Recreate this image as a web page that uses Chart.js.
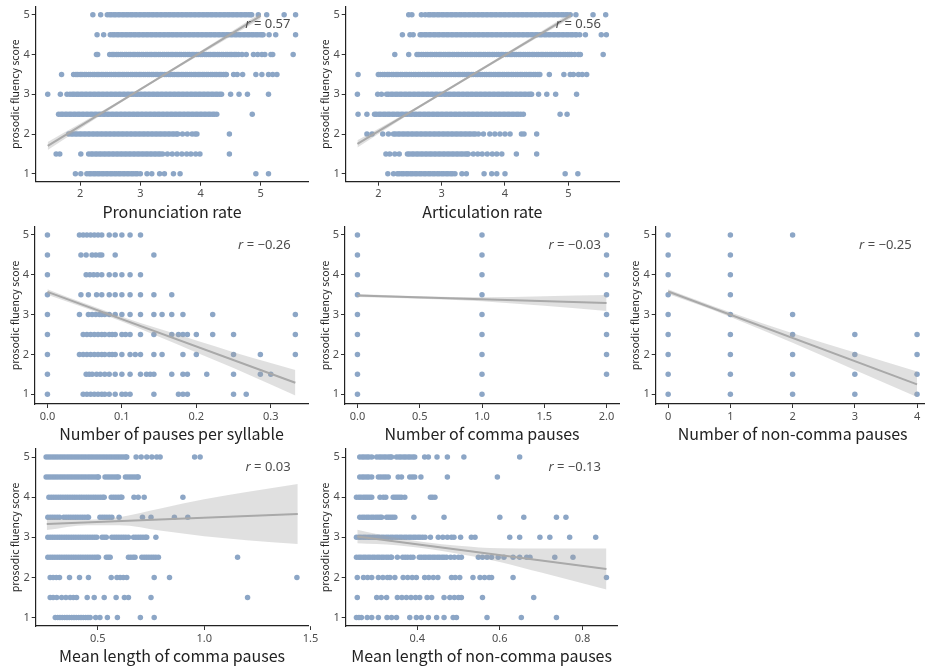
<!DOCTYPE html>
<html><head><meta charset="utf-8">
<script src="https://cdn.jsdelivr.net/npm/chart.js@4.4.1/dist/chart.umd.min.js"></script>
<style>
html,body{margin:0;padding:0;background:#fff;}
#wrap{position:relative;width:925px;height:667px;overflow:hidden;background:#fff;}
#wrap canvas{position:absolute;}
.rlab{position:absolute;font-family:"Noto Sans",sans-serif;font-size:13px;color:#4d4d4d;white-space:nowrap;line-height:1;transform:translate(-100%,-50%);}
</style></head><body><div id="wrap"></div>
<script>
// ---------- shared ----------
const scoreLevels = [5,4.5,4,3.5,3,2.5,2,1.5,1];
const scoreTicks = [1,2,3,4,5];
const scoreTickLabels = ['1','2','3','4','5'];

// ---------- Pronunciation rate (x values per score level, same order as scoreLevels) ----------
const pronRateX = [
 [2.21,2.34,2.45,2.49,2.52,2.56,2.59,2.63,2.66,2.70,2.73,2.77,2.80,2.84,2.87,2.91,2.94,2.98,3.01,3.05,3.08,3.12,3.15,3.19,3.22,3.26,3.29,3.33,3.36,3.40,3.43,3.47,3.50,3.54,3.57,3.61,3.64,3.68,3.71,3.75,3.78,3.82,3.85,3.89,3.92,3.96,3.99,4.03,4.06,4.10,4.13,4.17,4.20,4.24,4.27,4.31,4.34,4.38,4.41,4.45,4.48,4.52,4.55,4.59,4.62,4.66,4.69,4.73,4.76,4.80,4.83,4.85,4.96,5.10,5.39,5.58],
 [2.28,2.39,2.50,2.54,2.57,2.61,2.64,2.68,2.71,2.75,2.78,2.82,2.85,2.89,2.92,2.96,2.99,3.03,3.06,3.10,3.13,3.17,3.20,3.24,3.27,3.31,3.34,3.38,3.41,3.45,3.48,3.52,3.55,3.59,3.62,3.66,3.69,3.73,3.76,3.80,3.83,3.87,3.90,3.94,3.97,4.01,4.04,4.08,4.11,4.15,4.18,4.22,4.25,4.29,4.32,4.36,4.39,4.43,4.46,4.50,4.53,4.57,4.60,4.64,4.67,4.71,4.74,4.78,4.81,4.85,4.88,4.92,4.95,4.99,5.02,5.04,5.14,5.25,5.58],
 [2.27,2.29,2.49,2.53,2.56,2.60,2.63,2.67,2.70,2.74,2.77,2.81,2.84,2.88,2.91,2.95,2.98,3.02,3.05,3.09,3.12,3.16,3.19,3.23,3.26,3.30,3.33,3.37,3.40,3.44,3.47,3.51,3.54,3.58,3.61,3.65,3.68,3.72,3.75,3.79,3.82,3.86,3.89,3.93,3.96,4.00,4.03,4.07,4.10,4.14,4.17,4.21,4.24,4.28,4.31,4.35,4.38,4.42,4.45,4.49,4.52,4.56,4.59,4.63,4.69,4.76,4.88,4.95,5.02,5.07,5.17,5.20,5.54],
 [1.69,1.89,1.93,1.96,2.00,2.03,2.07,2.10,2.14,2.17,2.21,2.24,2.28,2.31,2.35,2.38,2.42,2.45,2.49,2.52,2.56,2.59,2.63,2.66,2.70,2.73,2.77,2.80,2.84,2.87,2.91,2.94,2.98,3.01,3.05,3.08,3.12,3.15,3.19,3.22,3.26,3.29,3.33,3.36,3.40,3.43,3.47,3.50,3.54,3.57,3.61,3.64,3.68,3.71,3.75,3.78,3.82,3.85,3.89,3.92,3.96,3.99,4.03,4.06,4.10,4.13,4.17,4.20,4.24,4.27,4.31,4.34,4.38,4.41,4.43,4.55,4.61,4.70,4.92,5.02,5.13,5.20,5.27],
 [1.46,1.67,1.78,1.83,1.87,1.90,1.94,1.97,2.01,2.04,2.08,2.11,2.15,2.18,2.22,2.25,2.29,2.32,2.36,2.39,2.43,2.46,2.50,2.53,2.57,2.60,2.64,2.67,2.71,2.74,2.78,2.81,2.85,2.88,2.92,2.95,2.99,3.02,3.06,3.09,3.13,3.16,3.20,3.23,3.27,3.30,3.34,3.37,3.41,3.44,3.48,3.51,3.55,3.58,3.62,3.65,3.69,3.72,3.76,3.79,3.83,3.86,3.90,3.93,3.97,4.00,4.04,4.07,4.11,4.14,4.18,4.21,4.25,4.28,4.32,4.35,4.50,4.64,4.78,5.13],
 [1.64,1.68,1.71,1.75,1.78,1.82,1.85,1.89,1.92,1.96,1.99,2.03,2.06,2.10,2.13,2.17,2.20,2.24,2.27,2.31,2.34,2.38,2.41,2.45,2.48,2.52,2.55,2.59,2.62,2.66,2.69,2.73,2.76,2.80,2.83,2.87,2.90,2.94,2.97,3.01,3.04,3.08,3.11,3.15,3.18,3.22,3.25,3.29,3.32,3.36,3.39,3.43,3.46,3.50,3.53,3.57,3.60,3.64,3.67,3.71,3.74,3.78,3.81,3.85,3.88,3.92,3.95,3.99,4.02,4.06,4.09,4.13,4.16,4.20,4.23,4.27,4.86],
 [1.81,1.85,1.88,1.92,1.95,1.99,2.02,2.06,2.09,2.13,2.16,2.20,2.23,2.27,2.30,2.34,2.37,2.41,2.44,2.48,2.51,2.55,2.58,2.62,2.65,2.69,2.72,2.76,2.79,2.83,2.86,2.90,2.93,2.97,3.00,3.04,3.07,3.11,3.14,3.18,3.21,3.25,3.28,3.32,3.35,3.39,3.42,3.46,3.49,3.53,3.56,3.60,3.62,3.70,3.78,3.86,3.91,3.94,4.48],
 [1.60,1.66,2.01,2.14,2.18,2.21,2.25,2.28,2.32,2.35,2.39,2.42,2.46,2.49,2.53,2.56,2.60,2.63,2.67,2.70,2.74,2.77,2.81,2.84,2.88,2.91,2.95,2.98,3.02,3.05,3.09,3.12,3.16,3.19,3.23,3.26,3.30,3.33,3.37,3.45,3.53,3.61,3.69,3.77,3.84,3.92,3.99,4.48],
 [1.92,2.01,2.11,2.15,2.18,2.22,2.25,2.29,2.32,2.36,2.39,2.43,2.46,2.50,2.53,2.57,2.60,2.64,2.67,2.71,2.74,2.78,2.81,2.85,2.88,2.92,2.95,3.00,3.11,3.19,3.32,3.40,3.55,3.66,4.92,5.13]
];
const pronRateFit = [[1.46,1.70],[5.00,4.97]];
const pronRateBandUp = [[1.46,1.80],[2.5,2.695],[3.3,3.43],[4.2,4.275],[5.00,5.05]];
const pronRateBandLo = [[1.46,1.60],[2.5,2.625],[3.3,3.37],[4.2,4.185],[5.00,4.89]];
const pronRateTicks = [2,3,4,5];
const pronRateTickLabels = ['2','3','4','5'];

// ---------- Articulation rate ----------
const artRateX = [
 [2.48,2.53,2.68,2.74,2.79,2.82,2.86,2.89,2.93,2.96,3.00,3.03,3.07,3.10,3.14,3.17,3.21,3.24,3.28,3.31,3.35,3.38,3.42,3.45,3.49,3.52,3.56,3.59,3.63,3.66,3.70,3.73,3.77,3.80,3.84,3.87,3.91,3.94,3.98,4.01,4.05,4.08,4.12,4.15,4.19,4.22,4.26,4.29,4.33,4.36,4.40,4.43,4.47,4.50,4.54,4.57,4.61,4.64,4.68,4.71,4.75,4.78,4.82,4.85,4.89,4.92,4.96,4.99,5.03,5.12,5.39,5.59],
 [2.38,2.50,2.55,2.66,2.69,2.73,2.76,2.80,2.83,2.87,2.90,2.94,2.97,3.01,3.04,3.08,3.11,3.15,3.18,3.22,3.25,3.29,3.32,3.36,3.39,3.43,3.46,3.50,3.53,3.57,3.60,3.64,3.67,3.71,3.74,3.78,3.81,3.85,3.88,3.92,3.95,3.99,4.02,4.06,4.09,4.13,4.16,4.20,4.23,4.27,4.30,4.34,4.37,4.41,4.44,4.48,4.51,4.55,4.58,4.62,4.65,4.69,4.72,4.76,4.79,4.83,4.86,4.90,4.93,4.97,5.00,5.04,5.07,5.11,5.13,5.18,5.27,5.52,5.60],
 [2.26,2.48,2.61,2.64,2.68,2.71,2.75,2.78,2.82,2.85,2.89,2.92,2.96,2.99,3.03,3.06,3.10,3.13,3.17,3.20,3.24,3.27,3.31,3.34,3.38,3.41,3.45,3.48,3.52,3.55,3.59,3.62,3.66,3.69,3.73,3.76,3.80,3.83,3.87,3.90,3.94,3.97,4.01,4.04,4.08,4.11,4.15,4.18,4.22,4.25,4.29,4.32,4.36,4.39,4.43,4.46,4.50,4.53,4.57,4.60,4.64,4.67,4.71,4.74,4.78,4.81,4.85,4.88,4.92,4.95,4.99,5.02,5.05,5.10,5.16,5.19,5.55],
 [1.68,2.00,2.03,2.07,2.10,2.14,2.17,2.21,2.24,2.28,2.31,2.35,2.38,2.42,2.45,2.49,2.52,2.56,2.59,2.63,2.66,2.70,2.73,2.77,2.80,2.84,2.87,2.91,2.94,2.98,3.01,3.05,3.08,3.12,3.15,3.19,3.22,3.26,3.29,3.33,3.36,3.40,3.43,3.47,3.50,3.54,3.57,3.61,3.64,3.68,3.71,3.75,3.78,3.82,3.85,3.89,3.92,3.96,3.99,4.03,4.06,4.10,4.13,4.17,4.20,4.24,4.27,4.31,4.34,4.38,4.41,4.45,4.48,4.52,4.55,4.70,4.93,5.03,5.08,5.16,5.22,5.29],
 [1.67,1.99,2.05,2.13,2.16,2.20,2.23,2.27,2.30,2.34,2.37,2.41,2.44,2.48,2.51,2.55,2.58,2.62,2.65,2.69,2.72,2.76,2.79,2.83,2.86,2.90,2.93,2.97,3.00,3.04,3.07,3.11,3.14,3.18,3.21,3.25,3.28,3.32,3.35,3.39,3.42,3.46,3.49,3.53,3.56,3.60,3.63,3.67,3.70,3.74,3.77,3.81,3.84,3.88,3.91,3.95,3.98,4.02,4.05,4.09,4.12,4.16,4.19,4.23,4.26,4.30,4.33,4.37,4.40,4.42,4.53,4.66,4.80,5.13],
 [1.68,1.82,1.94,1.97,2.01,2.04,2.08,2.11,2.15,2.18,2.22,2.25,2.29,2.32,2.36,2.39,2.43,2.46,2.50,2.53,2.57,2.60,2.64,2.67,2.71,2.74,2.78,2.81,2.85,2.88,2.92,2.95,2.99,3.02,3.06,3.09,3.13,3.16,3.20,3.23,3.27,3.30,3.34,3.37,3.41,3.44,3.48,3.51,3.55,3.58,3.62,3.65,3.69,3.72,3.76,3.79,3.83,3.86,3.90,3.93,3.97,4.00,4.04,4.07,4.11,4.14,4.18,4.21,4.25,4.29,4.87,4.98],
 [1.82,1.90,2.07,2.16,2.24,2.27,2.31,2.34,2.38,2.41,2.45,2.48,2.52,2.55,2.59,2.62,2.66,2.69,2.73,2.76,2.80,2.83,2.87,2.90,2.94,2.97,3.01,3.04,3.08,3.11,3.15,3.18,3.22,3.25,3.29,3.32,3.36,3.39,3.43,3.46,3.50,3.53,3.58,3.66,3.76,3.84,3.92,4.00,4.08,4.26,4.30,4.50],
 [2.12,2.18,2.26,2.33,2.46,2.49,2.53,2.56,2.60,2.63,2.67,2.70,2.74,2.77,2.81,2.84,2.88,2.91,2.95,2.98,3.02,3.05,3.09,3.12,3.16,3.19,3.23,3.26,3.30,3.33,3.37,3.40,3.42,3.50,3.57,3.64,3.72,3.80,3.87,3.95,4.18,4.50],
 [2.15,2.24,2.30,2.33,2.37,2.40,2.44,2.47,2.51,2.54,2.58,2.61,2.65,2.68,2.72,2.75,2.79,2.82,2.86,2.89,2.93,2.96,3.00,3.03,3.07,3.10,3.14,3.17,3.21,3.32,3.39,3.67,3.79,3.87,4.00,4.95,5.15]
];
const artRateFit = [[1.67,1.75],[5.04,4.98]];
const artRateBandUp = [[1.67,1.84],[2.6,2.675],[3.4,3.44],[4.2,4.215],[5.04,5.05]];
const artRateBandLo = [[1.67,1.66],[2.6,2.607],[3.4,3.376],[4.2,4.135],[5.04,4.91]];
const artRateTicks = [2,3,4,5];
const artRateTickLabels = ['2','3','4','5'];

// ---------- Number of pauses per syllable ----------
const pauseSylX = [
 [0,0.043,0.048,0.053,0.058,0.063,0.068,0.073,0.083,0.091,0.1,0.111,0.125],
 [0,0.045,0.052,0.06,0.065,0.07,0.073,0.091,0.143],
 [0,0.052,0.057,0.062,0.067,0.073,0.083,0.091,0.1,0.111,0.125],
 [0,0.045,0.055,0.066,0.073,0.083,0.091,0.1,0.111,0.125,0.143,0.167],
 [0,0.043,0.055,0.06,0.065,0.07,0.073,0.077,0.083,0.091,0.1,0.111,0.125,0.143,0.154,0.167,0.182,0.222,0.333],
 [0,0.048,0.053,0.058,0.063,0.068,0.073,0.077,0.083,0.087,0.091,0.1,0.105,0.111,0.125,0.143,0.167,0.176,0.182,0.188,0.2,0.222,0.25,0.333],
 [0,0.043,0.048,0.053,0.058,0.063,0.068,0.073,0.077,0.083,0.087,0.091,0.1,0.111,0.118,0.125,0.143,0.154,0.182,0.2,0.25,0.286,0.333],
 [0,0.052,0.056,0.06,0.066,0.071,0.077,0.083,0.091,0.1,0.111,0.125,0.133,0.138,0.143,0.167,0.182,0.188,0.214,0.25,0.286,0.3],
 [0,0.048,0.053,0.058,0.063,0.068,0.073,0.077,0.083,0.091,0.1,0.105,0.111,0.143,0.176,0.182,0.188,0.25,0.267]
];
const pauseSylFit = [[0,3.57],[0.333,1.29]];
const pauseSylBandUp = [[0,3.64],[0.05,3.283],[0.1,2.945],[0.15,2.643],[0.2,2.35],[0.25,2.058],[0.3,1.785],[0.333,1.61]];
const pauseSylBandLo = [[0,3.50],[0.05,3.173],[0.1,2.825],[0.15,2.443],[0.2,2.05],[0.25,1.658],[0.3,1.245],[0.333,0.97]];
const pauseSylTicks = [0,0.1,0.2,0.3];
const pauseSylTickLabels = ['0.0','0.1','0.2','0.3'];

// ---------- Number of comma pauses ----------
const commaNumX = [[0,1,2],[0,1,2],[0,1,2],[0,1,2],[0,1,2],[0,1,2],[0,1,2],[0,1,2],[0,1]];
const commaNumFit = [[0,3.48],[2,3.29]];
const commaNumBandUp = [[0,3.52],[0.5,3.46],[1,3.435],[1.5,3.46],[2,3.49]];
const commaNumBandLo = [[0,3.44],[0.5,3.40],[1,3.335],[1.5,3.22],[2,3.09]];
const commaNumTicks = [0,0.5,1,1.5,2];
const commaNumTickLabels = ['0.0','0.5','1.0','1.5','2.0'];

// ---------- Number of non-comma pauses ----------
const nonCommaNumX = [[0,1,2],[0,1],[0,1],[0,1],[0,1,2],[0,1,2,3,4],[0,1,2,3,4],[0,1,2,3,4],[0,1,2,3,4]];
const nonCommaNumFit = [[0,3.58],[4,1.25]];
const nonCommaNumBandUp = [[0,3.64],[0.5,3.34],[1,3.06],[2,2.535],[3,2.05],[4,1.57]];
const nonCommaNumBandLo = [[0,3.52],[0.5,3.24],[1,2.94],[2,2.295],[3,1.61],[4,0.93]];
const nonCommaNumTicks = [0,1,2,3,4];
const nonCommaNumTickLabels = ['0','1','2','3','4'];

// ---------- Mean length of comma pauses ----------
const commaLenX = [
 [0.257,0.268,0.279,0.290,0.301,0.312,0.323,0.334,0.345,0.356,0.367,0.378,0.389,0.400,0.411,0.422,0.433,0.444,0.455,0.466,0.477,0.488,0.499,0.510,0.521,0.532,0.543,0.554,0.565,0.576,0.587,0.598,0.609,0.620,0.631,0.636,0.680,0.704,0.730,0.754,0.777,0.793,0.955,0.981],
 [0.257,0.268,0.279,0.290,0.301,0.312,0.323,0.334,0.345,0.356,0.367,0.378,0.389,0.400,0.411,0.422,0.433,0.444,0.455,0.466,0.477,0.488,0.499,0.503,0.534,0.545,0.556,0.567,0.578,0.589,0.597,0.630,0.641,0.652,0.663,0.674,0.685,0.690],
 [0.270,0.281,0.292,0.303,0.314,0.325,0.336,0.347,0.358,0.369,0.380,0.391,0.402,0.413,0.424,0.435,0.446,0.457,0.468,0.479,0.490,0.501,0.512,0.523,0.530,0.563,0.574,0.585,0.596,0.607,0.613,0.670,0.690,0.718,0.900],
 [0.265,0.276,0.287,0.298,0.309,0.320,0.340,0.351,0.362,0.373,0.384,0.395,0.406,0.417,0.428,0.439,0.450,0.456,0.510,0.521,0.532,0.543,0.554,0.566,0.600,0.710,0.750,0.860,0.923],
 [0.265,0.276,0.287,0.298,0.309,0.320,0.331,0.342,0.353,0.364,0.375,0.386,0.397,0.408,0.419,0.430,0.441,0.452,0.463,0.474,0.485,0.495,0.520,0.530,0.540,0.566,0.577,0.588,0.599,0.610,0.621,0.632,0.644,0.668,0.679,0.690,0.701,0.712,0.723,0.730,0.773],
 [0.265,0.276,0.287,0.298,0.309,0.320,0.331,0.342,0.353,0.364,0.375,0.386,0.397,0.408,0.419,0.430,0.441,0.452,0.463,0.474,0.485,0.495,0.503,0.540,0.549,0.558,0.644,0.655,0.666,0.675,0.707,0.718,0.729,0.740,0.751,0.762,0.773,0.785,1.157],
 [0.276,0.290,0.305,0.320,0.367,0.414,0.456,0.563,0.590,0.605,0.620,0.636,0.765,0.837,1.436],
 [0.276,0.290,0.307,0.330,0.350,0.370,0.385,0.400,0.450,0.483,0.530,0.586,0.625,0.644,0.750,1.204],
 [0.300,0.311,0.322,0.333,0.344,0.355,0.366,0.377,0.388,0.399,0.410,0.421,0.432,0.443,0.454,0.464,0.490,0.510,0.545,0.592,0.700,0.765]
];
const commaLenFit = [[0.26,3.33],[1.44,3.58]];
const commaLenBandUp = [[0.26,3.48],[0.45,3.44],[0.6,3.502],[0.8,3.724],[1.0,3.947],[1.2,4.129],[1.44,4.33]];
const commaLenBandLo = [[0.26,3.18],[0.45,3.30],[0.6,3.302],[0.8,3.164],[1.0,3.027],[1.2,2.929],[1.44,2.83]];
const commaLenTicks = [0.5,1.0,1.5];
const commaLenTickLabels = ['0.5','1.0','1.5'];

// ---------- Mean length of non-comma pauses ----------
const nonCommaLenX = [
 [0.261,0.267,0.272,0.278,0.283,0.290,0.302,0.308,0.313,0.319,0.324,0.330,0.335,0.338,0.350,0.356,0.361,0.367,0.372,0.378,0.383,0.389,0.394,0.418,0.427,0.448,0.473,0.513,0.648],
 [0.261,0.267,0.272,0.278,0.283,0.290,0.306,0.312,0.318,0.324,0.330,0.354,0.362,0.382,0.388,0.394,0.409,0.473,0.594],
 [0.253,0.259,0.264,0.270,0.275,0.280,0.285,0.290,0.310,0.318,0.324,0.342,0.347,0.352,0.357,0.362,0.370,0.432,0.437,0.443],
 [0.261,0.267,0.272,0.278,0.283,0.289,0.294,0.300,0.305,0.310,0.314,0.326,0.331,0.336,0.341,0.346,0.392,0.465,0.600,0.658,0.737,0.760],
 [0.253,0.259,0.264,0.270,0.275,0.281,0.286,0.292,0.297,0.303,0.308,0.314,0.319,0.325,0.330,0.336,0.341,0.347,0.352,0.358,0.363,0.369,0.374,0.380,0.385,0.391,0.396,0.402,0.407,0.413,0.419,0.432,0.451,0.462,0.473,0.483,0.489,0.505,0.531,0.540,0.624,0.648,0.697,0.721,0.769,0.832],
 [0.253,0.259,0.264,0.270,0.275,0.281,0.286,0.292,0.297,0.303,0.308,0.314,0.319,0.325,0.330,0.336,0.338,0.352,0.365,0.371,0.377,0.384,0.390,0.405,0.410,0.416,0.421,0.427,0.432,0.438,0.443,0.449,0.454,0.460,0.465,0.471,0.481,0.490,0.500,0.507,0.548,0.558,0.569,0.580,0.596,0.610,0.632,0.648,0.665,0.673,0.733,0.777],
 [0.255,0.270,0.280,0.290,0.306,0.317,0.328,0.334,0.346,0.366,0.377,0.388,0.398,0.418,0.428,0.439,0.450,0.483,0.492,0.503,0.535,0.552,0.563,0.574,0.580,0.632,0.858],
 [0.255,0.302,0.313,0.326,0.352,0.363,0.374,0.385,0.396,0.406,0.424,0.435,0.465,0.479,0.490,0.500,0.507,0.558,0.682],
 [0.253,0.259,0.265,0.279,0.290,0.306,0.327,0.338,0.350,0.382,0.398,0.410,0.427,0.447,0.465,0.487,0.495,0.569,0.652,0.737]
];
const nonCommaLenFit = [[0.255,3.02],[0.858,2.21]];
const nonCommaLenBandUp = [[0.255,3.19],[0.35,2.982],[0.42,2.878],[0.5,2.791],[0.6,2.727],[0.7,2.722],[0.858,2.72]];
const nonCommaLenBandLo = [[0.255,2.85],[0.35,2.802],[0.42,2.718],[0.5,2.591],[0.6,2.387],[0.7,2.122],[0.858,1.70]];
const nonCommaLenTicks = [0.4,0.6,0.8];
const nonCommaLenTickLabels = ['0.4','0.6','0.8'];

// ---------- drawing ----------
const FONT = '"Noto Sans CJK KR","Noto Sans",sans-serif';
const TICKFONT = '"Noto Sans",sans-serif';
const DOT = '#8ca6c6';
const LINE = '#a9a9a9';
const BAND = 'rgba(160,160,160,0.33)';
const wrap = document.getElementById('wrap');

function toPts(arr){ return arr.map(p => ({x:p[0], y:p[1]})); }
function scatterPts(rows){
  const out = [];
  rows.forEach((row,i) => row.forEach(x => out.push({x:x, y:scoreLevels[i]})));
  return out;
}

function makePanel(s){
  const yLH = 10.5*1.2, xLH = 16*1.2;
  const cl = Math.floor(s.area.l - 40);
  const YW = s.area.l - cl;
  const aw = s.area.r - s.area.l, ah = s.area.b - s.area.t;
  const w = Math.ceil(YW + aw + 26);
  const padR = w - YW - aw;
  const ct = Math.floor(s.area.t - 12);
  const padT = s.area.t - ct;
  const XH0 = s.xTitleY + xLH/2 + 2 - s.area.b;
  const h = Math.ceil(padT + ah + XH0);
  const XH = h - padT - ah;
  const xTitlePadB = h - xLH/2 - (s.xTitleY - ct);
  const yTitlePadT = s.yTitleX - cl - yLH/2;

  const c = document.createElement('canvas');
  c.width = w; c.height = h;
  c.style.left = cl + 'px'; c.style.top = ct + 'px';
  c.style.width = w + 'px'; c.style.height = h + 'px';
  wrap.appendChild(c);

  const tickFont = {family: TICKFONT, size: 11};
  new Chart(c, {
    type: 'scatter',
    data: { datasets: [
      {type:'line', data: toPts(s.bandUp), borderWidth:0, pointRadius:0, fill:'+1', backgroundColor:BAND, cubicInterpolationMode:'monotone', order:2},
      {type:'line', data: toPts(s.bandLo), borderWidth:0, pointRadius:0, fill:false, cubicInterpolationMode:'monotone', order:2},
      {type:'scatter', data: scatterPts(s.rows), pointRadius:2.75, pointBackgroundColor:DOT, backgroundColor:DOT, pointBorderWidth:0, borderWidth:0, order:3},
      {type:'line', data: toPts(s.fit), borderColor:LINE, borderWidth:2, pointRadius:0, fill:false, order:1}
    ]},
    options: {
      responsive:false, animation:false, devicePixelRatio:1, events:[],
      layout:{padding:{left:0, top:padT, right:padR, bottom:0}},
      plugins:{legend:{display:false}, tooltip:{enabled:false}},
      scales:{
        x:{type:'linear', position:'bottom', min:s.xMin, max:s.xMax,
          afterFit(sc){ sc.height = XH; },
          afterBuildTicks(sc){ sc.ticks = s.xTicks.map(v => ({value:v})); },
          ticks:{autoSkip:false, maxRotation:0, minRotation:0, padding:2, color:'#4d4d4d', font:tickFont,
                 callback:(v,i) => s.xTickLabels[i]},
          grid:{display:true, drawOnChartArea:false, drawTicks:true, tickLength:4, tickColor:'#333', tickWidth:1},
          border:{display:true, color:'#222', width:1.2},
          title:{display:true, text:s.xTitle, color:'#222', font:{family:FONT, size:16}, padding:{top:0, bottom:xTitlePadB}}
        },
        y:{type:'linear', position:'left', min:s.yMin, max:5.2,
          afterFit(sc){ sc.width = YW; },
          afterBuildTicks(sc){ sc.ticks = scoreTicks.map(v => ({value:v})); },
          ticks:{autoSkip:false, padding:2, color:'#4d4d4d', font:tickFont,
                 callback:(v,i) => scoreTickLabels[i]},
          grid:{display:true, drawOnChartArea:false, drawTicks:true, tickLength:4, tickColor:'#333', tickWidth:1},
          border:{display:true, color:'#222', width:1.2},
          title:{display:true, text:'prosodic fluency score', color:'#222', font:{family:FONT, size:10.5}, padding:{top:yTitlePadT, bottom:0}}
        }
      }
    }
  });

  const lab = document.createElement('div');
  lab.className = 'rlab';
  lab.style.left = s.rPos[0] + 'px'; lab.style.top = s.rPos[1] + 'px';
  lab.innerHTML = '<i>r</i>&nbsp;=&nbsp;' + s.rText;
  wrap.appendChild(lab);
}

const row1 = {t:6.8, b:181.7, yMin:0.8, xTitleY:211.5};
const row2 = {t:227.0, b:404.0, yMin:0.756, xTitleY:434.0};
const row3 = {t:449.0, b:626.0, yMin:0.79, xTitleY:655.5};

const panels = [
  {row:row1, l:35.7, r:308.2, xMin:1.26, xMax:5.79, rows:pronRateX, fit:pronRateFit, bandUp:pronRateBandUp, bandLo:pronRateBandLo, xTicks:pronRateTicks, xTickLabels:pronRateTickLabels, xTitle:'Pronunciation rate', yTitleX:15, rPos:[290.5,23.3], rText:'0.57'},
  {row:row1, l:345.7, r:619.0, xMin:1.485, xMax:5.80, rows:artRateX, fit:artRateFit, bandUp:artRateBandUp, bandLo:artRateBandLo, xTicks:artRateTicks, xTickLabels:artRateTickLabels, xTitle:'Articulation rate', yTitleX:325, rPos:[601,23.3], rText:'0.56'},
  {row:row2, l:35.0, r:308.0, xMin:-0.0167, xMax:0.35, rows:pauseSylX, fit:pauseSylFit, bandUp:pauseSylBandUp, bandLo:pauseSylBandLo, xTicks:pauseSylTicks, xTickLabels:pauseSylTickLabels, xTitle:'Number of pauses per syllable', yTitleX:15, rPos:[290.7,244], rText:'\u22120.26'},
  {row:row2, l:345.0, r:619.0, xMin:-0.1, xMax:2.1, rows:commaNumX, fit:commaNumFit, bandUp:commaNumBandUp, bandLo:commaNumBandLo, xTicks:commaNumTicks, xTickLabels:commaNumTickLabels, xTitle:'Number of comma pauses', yTitleX:325, rPos:[601,244], rText:'\u22120.03'},
  {row:row2, l:655.7, r:929.5, xMin:-0.2, xMax:4.2, rows:nonCommaNumX, fit:nonCommaNumFit, bandUp:nonCommaNumBandUp, bandLo:nonCommaNumBandLo, xTicks:nonCommaNumTicks, xTickLabels:nonCommaNumTickLabels, xTitle:'Number of non-comma pauses', yTitleX:635, rPos:[911.7,244], rText:'\u22120.25'},
  {row:row3, l:35.7, r:308.4, xMin:0.208, xMax:1.49, rows:commaLenX, fit:commaLenFit, bandUp:commaLenBandUp, bandLo:commaLenBandLo, xTicks:commaLenTicks, xTickLabels:commaLenTickLabels, xTitle:'Mean length of comma pauses', yTitleX:15, rPos:[290.7,465.7], rText:'0.03'},
  {row:row3, l:345.7, r:617.6, xMin:0.227, xMax:0.885, rows:nonCommaLenX, fit:nonCommaLenFit, bandUp:nonCommaLenBandUp, bandLo:nonCommaLenBandLo, xTicks:nonCommaLenTicks, xTickLabels:nonCommaLenTickLabels, xTitle:'Mean length of non-comma pauses', yTitleX:325, rPos:[601,465.7], rText:'\u22120.13'}
];

panels.forEach(p => makePanel(Object.assign({}, p, {
  area:{l:p.l, r:p.r, t:p.row.t, b:p.row.b}, yMin:p.row.yMin, xTitleY:p.row.xTitleY
})));
</script></body></html>
